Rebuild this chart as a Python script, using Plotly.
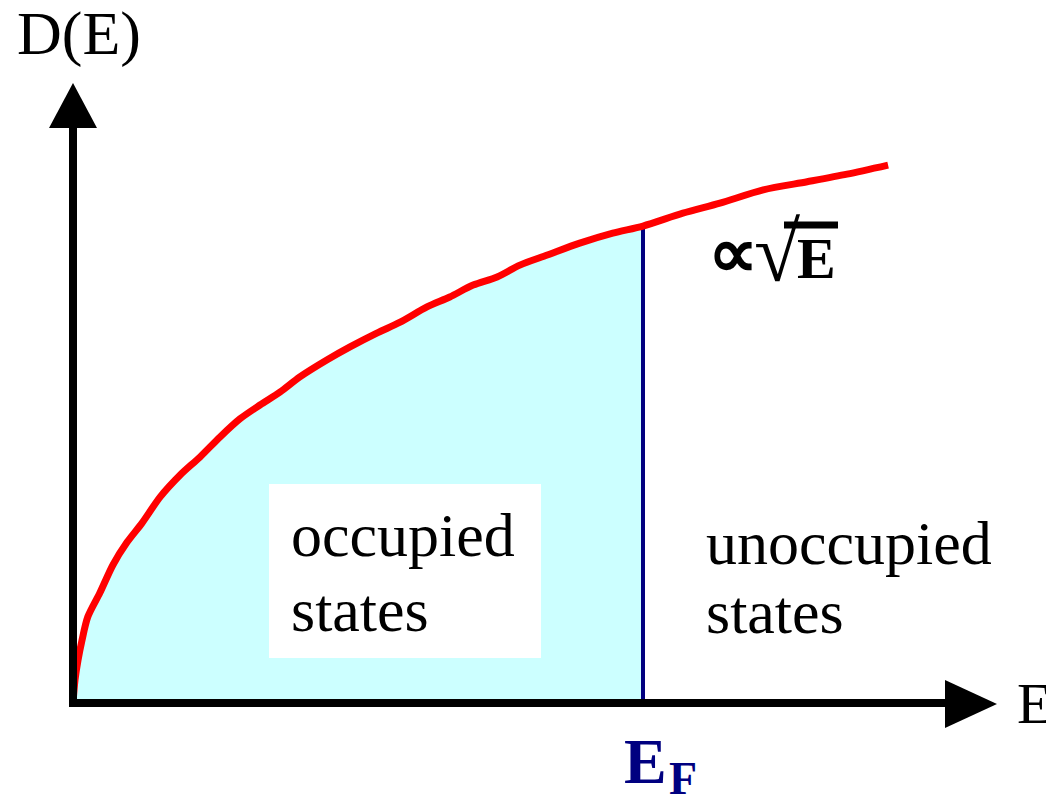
import plotly.graph_objects as go

# ---- data (E in units of E_F, D in units of D(E_F)) ----
energy = [0.0, 0.0035, 0.0088, 0.0158, 0.026, 0.047, 0.070, 0.095, 0.121, 0.153,
          0.188, 0.223, 0.258, 0.293, 0.328, 0.363, 0.398, 0.446, 0.486, 0.533,
          0.574, 0.621, 0.661, 0.702, 0.744, 0.784, 0.832, 0.889, 0.947, 1.000,
          1.070, 1.135, 1.211, 1.288, 1.358, 1.430]
dos = [0.0, 0.048, 0.090, 0.132, 0.181, 0.231, 0.290, 0.338, 0.378, 0.433,
       0.479, 0.517, 0.559, 0.597, 0.626, 0.653, 0.685, 0.721, 0.748, 0.777,
       0.800, 0.832, 0.853, 0.878, 0.895, 0.920, 0.941, 0.966, 0.987, 1.002,
       1.029, 1.050, 1.078, 1.095, 1.111, 1.130]
fermi_energy = 1.0
fermi_dos = 1.002

OFF = 8               # page body margin
W, H = 1054 - OFF, 795 - OFF
X0, XS = 73, 570      # screen pixel of E=0, pixels per unit E
Y0, YS = 703, 476     # screen pixel of D=0, pixels per unit D

def px(x):
    return (x - OFF) / W

def py(y):
    return 1 - (y - OFF) / H

occ_E = [e for e in energy if e <= fermi_energy]
occ_D = [d for e, d in zip(energy, dos) if e <= fermi_energy]

fig = go.Figure()
fig.add_trace(go.Scatter(x=occ_E, y=occ_D, mode="lines", fill="tozeroy",
                         fillcolor="#CCFFFF",
                         line=dict(width=0, color="#CCFFFF", shape="spline", smoothing=0.8),
                         hoverinfo="skip", showlegend=False))
fig.add_trace(go.Scatter(x=[fermi_energy, fermi_energy], y=[0, fermi_dos],
                         mode="lines", line=dict(color="#000080", width=4),
                         showlegend=False))
fig.add_trace(go.Scatter(x=energy, y=dos, mode="lines",
                         line=dict(color="#FF0000", width=7, shape="spline", smoothing=0.8),
                         showlegend=False))

shapes = []
# white label box
shapes.append(dict(type="rect", xref="paper", yref="paper",
                   x0=px(269), x1=px(541), y0=py(658), y1=py(484),
                   fillcolor="white", line=dict(width=0), layer="above"))
# y axis
shapes.append(dict(type="line", xref="paper", yref="paper",
                   x0=px(73), x1=px(73), y0=py(707), y1=py(125),
                   line=dict(color="black", width=8), layer="above"))
shapes.append(dict(type="path", xref="paper", yref="paper",
                   path=f"M {px(49)},{py(128)} L {px(97)},{py(128)} L {px(73)},{py(83)} Z",
                   fillcolor="black", line=dict(width=0), layer="above"))
# x axis
shapes.append(dict(type="line", xref="paper", yref="paper",
                   x0=px(69), x1=px(948), y0=py(703), y1=py(703),
                   line=dict(color="black", width=8), layer="above"))
shapes.append(dict(type="path", xref="paper", yref="paper",
                   path=f"M {px(945)},{py(680)} L {px(945)},{py(728)} L {px(997)},{py(704)} Z",
                   fillcolor="black", line=dict(width=0), layer="above"))

annotations = []
def ann(text, x_left, baseline, size, bold=False, color="black", family="Liberation Serif"):
    ytop = baseline - 0.891 * size - 1
    t = f"<b>{text}</b>" if bold else text
    annotations.append(dict(text=t, xref="paper", yref="paper",
                            x=px(x_left - 1), y=py(ytop), xanchor="left", yanchor="top",
                            showarrow=False,
                            font=dict(family=family, size=size, color=color)))

ann("D(E)", 16, 53, 62)
ann("E", 1016, 722, 58)
ann("E", 623, 782, 64, bold=True, color="#000080")
ann("F", 668, 793, 46, bold=True, color="#000080")
ann("∝", 707, 276, 70, bold=True)
ann("√", 753, 280, 84)
ann("E", 796, 277, 58, bold=True)
ann("occupied", 290, 555, 62)
ann("states", 290, 630, 62)
ann("unoccupied", 705, 563, 62)
ann("states", 705, 632, 62)

# overline of the square root
shapes.append(dict(type="line", xref="paper", yref="paper",
                   x0=px(784), x1=px(838), y0=py(225), y1=py(225),
                   line=dict(color="black", width=7), layer="above"))

fig.update_layout(
    width=W, height=H, margin=dict(l=0, r=0, t=0, b=0),
    paper_bgcolor="white", plot_bgcolor="white",
    xaxis=dict(range=[(OFF - X0) / XS, (1054 - X0) / XS], visible=False, fixedrange=True),
    yaxis=dict(range=[(Y0 - 795) / YS, (Y0 - OFF) / YS], visible=False, fixedrange=True),
    shapes=shapes, annotations=annotations, showlegend=False,
)
fig.write_html("out.html")
